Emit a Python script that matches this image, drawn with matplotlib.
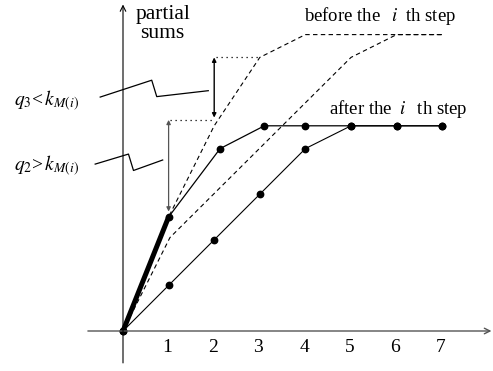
import matplotlib
matplotlib.use("Agg")
import matplotlib.pyplot as plt

plt.rcParams['font.family'] = ['Liberation Serif', 'DejaVu Serif']
plt.rcParams['mathtext.fontset'] = 'stix'

# ---- data ----
tick_labels = ['1', '2', '3', '4', '5', '6', '7']
tick_pos = [1, 2, 3, 4, 5, 6, 7]

after_upper_x = [0, 1, 2.13, 3.1, 4, 5, 6, 7]
after_upper_y = [0, 2.5, 4.0, 4.5, 4.5, 4.5, 4.5, 4.5]

after_lower_x = [0, 1, 2, 3, 4, 5, 6, 7]
after_lower_y = [0, 1, 2, 3, 4, 4.5, 4.5, 4.5]

before_upper_x = [0, 1, 2, 3, 4, 7]
before_upper_y = [0, 2.5, 4.5, 6.0, 6.5, 6.5]

before_lower_x = [0, 1.03, 5, 6, 7]
before_lower_y = [0, 2.05, 6.0, 6.5, 6.5]

thick_x = [0, 1]
thick_y = [0, 2.5]

# annotation guides
dotted_low_x = [1.02, 1.98]
dotted_low_y = [4.63, 4.63]
dotted_high_x = [2.05, 3.0]
dotted_high_y = [6.0, 6.0]
arrow1 = (1.0, 2.62, 4.63)   # x, y_bottom, y_top
arrow2 = (2.0, 4.68, 6.0)
leader_q3_x = [-0.50, 0.63, 0.74, 1.87]
leader_q3_y = [5.13, 5.50, 5.14, 5.27]
leader_q2_x = [-0.61, 0.12, 0.23, 0.87]
leader_q2_y = [3.66, 3.88, 3.52, 3.75]

W, H = 493, 371
fig = plt.figure(figsize=(W / 100, H / 100), dpi=100)
ax = fig.add_axes([0, 0, 1, 1])
s = 45.6
ax.set_xlim(-123 / s, (W - 123) / s)
ax.set_ylim(-(H - 331) / s, 331 / s)
ax.axis('off')

# axes with arrows
ax.annotate('', xy=(8.08, 0), xytext=(-0.77, 0),
            arrowprops=dict(arrowstyle='->', color='#555555', lw=1.0,
                            shrinkA=0, shrinkB=0, mutation_scale=10))
ax.annotate('', xy=(0, 7.16), xytext=(0, -0.70),
            arrowprops=dict(arrowstyle='->', color='black', lw=0.8,
                            shrinkA=0, shrinkB=0, mutation_scale=10))

for p, t in zip(tick_pos, tick_labels):
    ax.text(p - 0.03, -0.37, t, ha='center', va='center', fontsize=14)

# before (dashed)
ax.plot(before_upper_x, before_upper_y, ls=(0, (4, 3)), color='black', lw=0.8)
ax.plot(before_lower_x, before_lower_y, ls=(0, (4, 3)), color='black', lw=0.8)

# after (solid with dots)
ax.plot(after_upper_x, after_upper_y, '-o', color='black', lw=0.9, ms=4.6)
ax.plot(after_lower_x, after_lower_y, '-o', color='black', lw=0.8, ms=4.6)
ax.plot(thick_x, thick_y, '-', color='black', lw=3.6, solid_capstyle='butt')

# dotted guides
ax.plot(dotted_low_x, dotted_low_y, ls=(0, (1, 3)), color='black', lw=0.9)
ax.plot(dotted_high_x, dotted_high_y, ls=(0, (1, 3)), color='black', lw=0.9)

# double arrows
ax.annotate('', xy=(arrow1[0], arrow1[2]), xytext=(arrow1[0], arrow1[1]),
            arrowprops=dict(arrowstyle='<|-|>', color='#555555', lw=0.9,
                            shrinkA=0, shrinkB=0, mutation_scale=6))
ax.annotate('', xy=(arrow2[0], arrow2[2]), xytext=(arrow2[0], arrow2[1]),
            arrowprops=dict(arrowstyle='<|-|>', color='black', lw=1.0,
                            shrinkA=0, shrinkB=0, mutation_scale=6))

# leader lines
ax.plot(leader_q3_x, leader_q3_y, color='black', lw=0.9)
ax.plot(leader_q2_x, leader_q2_y, color='black', lw=0.9)

# texts
ax.text(0.87, 6.74, 'partial\nsums', ha='center', va='center', fontsize=15.5,
        linespacing=1.0)
ax.text(3.97, 6.91, r'before the $\;\;i\;$ th step', ha='left', va='center', fontsize=13.5)
ax.text(4.52, 4.86, r'after the $\;i\;\;$ th step', ha='left', va='center', fontsize=13.5)
ax.text(-2.38, 5.05, r'$q_3$<$\,k_{M(i)}$', ha='left', va='center', fontsize=14)
ax.text(-2.38, 3.62, r'$q_2$>$\,k_{M(i)}$', ha='left', va='center', fontsize=14)

fig.savefig('out.png', dpi=100)
